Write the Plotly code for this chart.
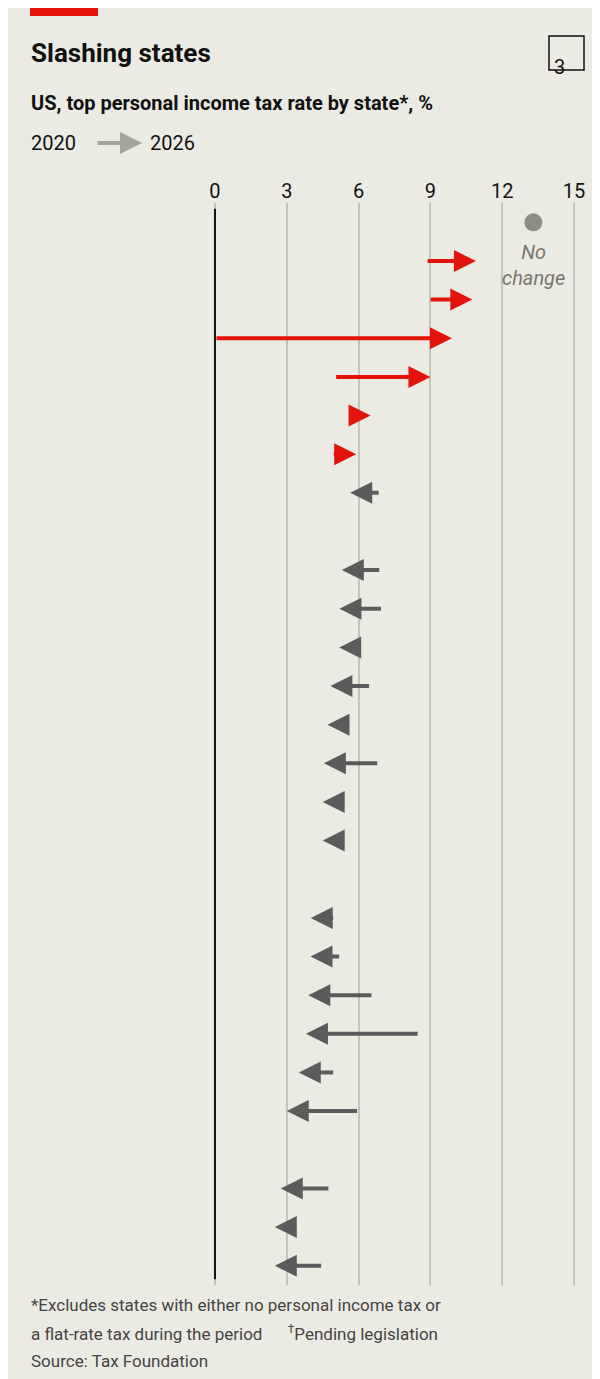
import plotly.graph_objects as go

states = ["California", "New York", "Washington, DC", "Washington<sup>†</sup>", "Massachusetts",
          "Maryland", "New Mexico", "Montana", "Kansas", "Idaho", "South Carolina<sup>†</sup>",
          "Georgia", "West Virginia", "Missouri", "Nebraska", "Utah", "Oklahoma", "Colorado",
          "Mississippi", "North Carolina", "Arkansas", "Iowa", "Kentucky", "Louisiana",
          "Indiana", "Ohio", "North Dakota", "Arizona"]
rate_2020 = [13.3, 8.82, 8.95, 0.0, 5.0, 5.75, 4.9, 6.9, 5.7, 6.925, 7.0, 5.75, 6.5, 5.4,
             6.84, 4.95, 5.0, 4.63, 5.0, 5.25, 6.6, 8.53, 5.0, 6.0, 3.23, 4.8, 2.9, 4.5]
rate_2026 = [13.3, 10.9, 10.75, 9.9, 9.0, 6.5, 5.9, 5.65, 5.58, 5.3, 5.2, 5.19, 4.82, 4.7,
             4.55, 4.5, 4.5, 4.4, 4.0, 3.99, 3.9, 3.8, 3.5, 3.0, 2.95, 2.75, 2.5, 2.5]
ticks = [0, 3, 6, 9, 12, 15]

RED = "#e3120b"
GREY = "#5b5b5b"
BG = "#ecebe3"
FONT = "Roboto"

fig = go.Figure()
ann = []
for i, (s, a, b) in enumerate(zip(states, rate_2020, rate_2026)):
    ann.append(dict(x=-7.69, y=i, xref="x", yref="y", text=s, showarrow=False,
                    xanchor="left", font=dict(size=20, color="#111111", family=FONT)))
    if a == b:
        continue
    col = RED if b > a else GREY
    ann.append(dict(x=b, y=i, ax=a, ay=i, xref="x", yref="y", axref="x", ayref="y",
                    text="", showarrow=True, arrowhead=2, arrowsize=1.1, arrowwidth=4,
                    arrowcolor=col, standoff=0, startstandoff=0))

# no-change dot
same = [i for i, (a, b) in enumerate(zip(rate_2020, rate_2026)) if a == b]
fig.add_trace(go.Scatter(x=[rate_2020[i] for i in same], y=same, mode="markers",
                         marker=dict(size=18, color="#8e8e86"), showlegend=False,
                         hoverinfo="skip"))
ann.append(dict(x=rate_2020[0], y=1.1, xref="x", yref="y", text="<i>No<br>change</i>",
                showarrow=False, font=dict(size=20, color="#77776f", family=FONT),
                align="center"))

# zero line
fig.add_shape(type="line", x0=0, x1=0, y0=-0.35, y1=27.35, xref="x", yref="y",
              line=dict(color="#111111", width=2))

# header
fig.add_shape(type="rect", xref="paper", yref="paper",
              x0=(22 - 195) / 383, x1=(90 - 195) / 383,
              y0=1 + (195 - 8) / 1082, y1=1 + 195 / 1082, fillcolor=RED, line=dict(width=0))
fig.add_shape(type="rect", xref="paper", yref="paper",
              x0=(541 - 195) / 383, x1=(576 - 195) / 383,
              y0=1 + (195 - 62) / 1082, y1=1 + (195 - 28) / 1082,
              line=dict(color="#111111", width=1.5))
ann.append(dict(x=(558.5 - 195) / 383, y=1 + (195 - 45) / 1082, xref="paper", yref="paper",
                text="3", showarrow=False, font=dict(size=20, color="#111111", family=FONT)))

def top(x_px, y_px, text, size, bold=False, color="#111111"):
    t = f"<b>{text}</b>" if bold else text
    ann.append(dict(x=(x_px - 195) / 383, y=1 + (195 - y_px) / 1082, xref="paper",
                    yref="paper", text=t, showarrow=False, xanchor="left", yanchor="middle",
                    font=dict(size=size, color=color, family=FONT)))

top(21, 45, "Slashing states", 26, bold=True)
top(21, 95, "US, top personal income tax rate by state*, %", 20, bold=True)
top(21, 135, "2020", 20)
top(140, 135, "2026", 20)
ann.append(dict(x=(134 - 195) / 383, y=1 + 60 / 1082, ax=-46, ay=0,
                xref="paper", yref="paper", axref="pixel", ayref="pixel", text="",
                showarrow=True, arrowhead=2, arrowsize=1.1, arrowwidth=4,
                arrowcolor="#a4a49c", standoff=0))
top(21, 1297, "*Excludes states with either no personal income tax or", 17, color="#444444")
top(21, 1325, "a flat-rate tax during the period      <sup>†</sup>Pending legislation", 17,
    color="#444444")
top(21, 1353, "Source: Tax Foundation", 17, color="#444444")

fig.update_layout(
    width=600, height=1379,
    margin=dict(l=195, r=22, t=195, b=102),
    paper_bgcolor=BG, plot_bgcolor=BG,
    annotations=ann, showlegend=False,
    font=dict(family=FONT),
)
fig.update_xaxes(range=[-0.5, 15.5], side="top", tickvals=ticks, showgrid=True,
                 gridcolor="#c4c4bc", gridwidth=2, zeroline=False, showline=False,
                 tickfont=dict(size=20, color="#111111"), ticks="", fixedrange=True)
fig.update_yaxes(range=[27.5, -0.5], visible=False, showgrid=False, fixedrange=True)

fig.write_html("out.html")
